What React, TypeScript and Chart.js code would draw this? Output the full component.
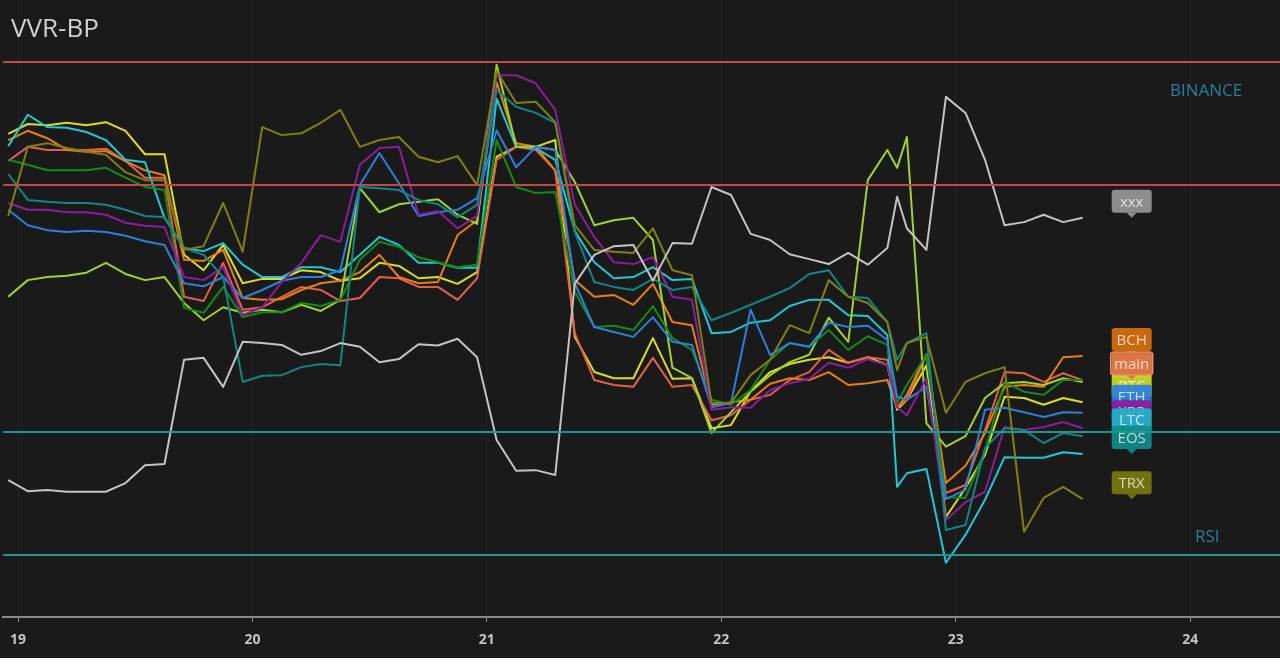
import React, { useEffect, useRef } from 'react';
import { Chart, registerables } from 'chart.js';

Chart.register(...registerables);

// hours since the 19th 00:00
const hours = [-1, 1, 3, 5, 7, 9, 11, 13, 15, 17, 19, 21, 23, 25, 27, 29, 31, 33, 35, 37, 39, 41, 43, 45, 47, 49, 51, 53, 55, 57, 59, 61, 63, 65, 67, 69, 71, 73, 75, 77, 79, 81, 83, 85, 87, 89, 90, 91, 93, 95, 97, 99, 101, 103, 105, 107, 109];

const dayTicks = [0, 24, 48, 72, 96, 120];
const dayLabels = ['19', '20', '21', '22', '23', '24'];

const redLevels = [90, 70];
const tealLevels = [30, 10];

const xxxValues = [22.2, 20.4, 20.6, 20.3, 20.3, 20.3, 21.7, 24.6, 24.8, 41.7, 42.0, 37.3, 44.6, 44.4, 44.1, 42.5, 43.1, 44.4, 43.8, 41.3, 41.8, 44.2, 44.0, 45.1, 42.1, 28.7, 23.7, 23.8, 23.0, 54.0, 58.7, 60.1, 60.3, 54.5, 60.6, 60.5, 69.7, 68.4, 62.1, 61.1, 58.8, 58.0, 57.2, 59.0, 57.1, 59.8, 68.1, 63.0, 59.5, 84.3, 81.7, 74.1, 63.5, 64.0, 65.2, 64.0, 64.7];
const btcValues = [78.3, 79.9, 79.7, 80.1, 79.7, 80.2, 78.8, 75.0, 75.0, 58.7, 56.2, 60.3, 54.1, 54.8, 54.8, 56.2, 55.9, 54.5, 54.9, 57.4, 56.9, 54.9, 55.1, 54.0, 55.9, 74.6, 76.2, 76.2, 77.3, 45.4, 39.7, 38.7, 38.7, 45.2, 38.6, 38.7, 30.6, 31.1, 36.6, 39.7, 41.0, 41.7, 42.1, 41.2, 42.1, 40.8, 33.6, 35.2, 40.8, 16.2, 20.9, 26.3, 35.7, 35.5, 34.4, 35.5, 34.8];
const eosValues = [76.3, 81.4, 79.4, 79.3, 78.6, 77.3, 74.1, 73.7, 64.7, 59.8, 59.3, 60.6, 57.1, 55.1, 55.1, 56.7, 56.7, 55.9, 58.7, 61.6, 60.3, 57.4, 57.4, 56.6, 56.6, 84.0, 76.2, 76.0, 74.1, 62.6, 57.5, 54.9, 55.1, 56.7, 54.6, 54.8, 46.0, 46.2, 47.7, 48.1, 50.4, 51.4, 51.4, 48.9, 48.8, 45.7, 21.1, 23.3, 24.0, 8.8, 13.3, 19.0, 25.9, 25.8, 25.8, 26.7, 26.4];
const bchValues = [77.3, 78.8, 77.6, 75.7, 75.4, 75.5, 73.9, 72.4, 71.6, 57.9, 57.7, 59.5, 51.7, 51.4, 51.5, 53.0, 54.1, 54.5, 55.9, 58.7, 55.1, 54.1, 54.3, 61.9, 64.3, 86.7, 76.8, 76.2, 72.4, 54.6, 51.9, 52.2, 50.6, 54.0, 47.8, 47.3, 34.4, 34.8, 35.2, 37.8, 38.7, 38.4, 39.7, 37.6, 37.9, 38.4, 33.9, 36.0, 42.6, 21.7, 24.5, 29.8, 37.3, 37.6, 37.3, 42.1, 42.3];
const mainValues = [73.9, 76.2, 75.7, 75.7, 75.7, 75.9, 73.9, 71.2, 71.2, 51.9, 51.2, 57.4, 49.8, 50.2, 51.9, 53.5, 53.0, 51.2, 51.7, 55.1, 54.9, 53.5, 53.5, 51.4, 54.9, 74.1, 76.2, 75.7, 72.4, 46.0, 38.4, 37.6, 37.3, 42.0, 37.3, 37.6, 31.9, 32.7, 35.2, 36.0, 38.4, 39.7, 43.3, 41.2, 42.1, 41.7, 34.0, 35.2, 42.5, 20.1, 21.4, 30.3, 39.7, 39.5, 38.1, 39.5, 38.4];
const trxValues = [65.0, 76.2, 76.8, 76.0, 75.4, 74.9, 72.1, 70.8, 70.8, 59.5, 60.1, 67.1, 59.2, 79.4, 78.1, 78.4, 80.1, 82.2, 76.2, 77.3, 77.8, 74.6, 73.7, 74.7, 70.0, 88.5, 83.3, 83.5, 80.2, 63.5, 59.5, 59.2, 59.0, 63.0, 56.2, 55.4, 34.7, 34.7, 39.2, 41.7, 47.3, 46.0, 54.6, 51.9, 50.9, 47.8, 40.0, 44.4, 45.4, 33.1, 38.1, 39.5, 40.5, 13.8, 19.3, 21.1, 19.1];
const bnbValues = [74.1, 73.3, 72.4, 72.4, 72.4, 72.8, 71.2, 69.7, 69.2, 50.1, 49.3, 53.5, 48.6, 49.4, 49.4, 50.9, 50.4, 51.4, 57.9, 60.8, 60.0, 58.3, 57.5, 56.7, 57.1, 77.3, 69.7, 68.7, 68.9, 52.7, 47.0, 47.2, 46.5, 50.4, 45.2, 43.3, 35.2, 34.4, 36.8, 41.7, 44.4, 43.8, 46.5, 43.3, 45.5, 44.1, 34.7, 37.6, 42.5, 19.4, 19.3, 26.9, 38.1, 36.5, 36.0, 38.4, 38.4];
const ltcValues = [71.8, 67.6, 67.3, 67.1, 67.1, 66.8, 66.0, 65.0, 64.8, 59.8, 58.7, 55.1, 38.1, 39.1, 39.2, 40.5, 41.0, 40.8, 69.7, 69.5, 69.2, 67.6, 66.9, 64.8, 66.8, 85.4, 82.7, 81.7, 80.1, 62.4, 54.3, 53.5, 53.0, 54.8, 53.0, 53.5, 48.1, 49.3, 50.6, 51.9, 53.3, 55.6, 56.2, 51.9, 51.7, 47.8, 41.7, 44.4, 46.0, 14.1, 14.9, 27.4, 30.6, 30.3, 28.2, 29.8, 29.3];
const xrpValues = [67.1, 66.0, 66.0, 65.6, 65.6, 65.2, 63.9, 63.4, 63.2, 55.1, 54.6, 56.7, 48.9, 50.2, 54.3, 57.4, 61.9, 60.8, 73.3, 76.0, 76.2, 65.2, 65.8, 63.0, 65.0, 87.8, 87.8, 86.5, 82.2, 66.8, 61.6, 57.5, 57.2, 58.3, 51.9, 51.4, 33.6, 34.0, 33.9, 36.8, 37.9, 38.6, 41.2, 40.4, 41.8, 40.8, 34.0, 32.7, 38.7, 15.7, 18.6, 20.3, 30.8, 30.3, 30.8, 31.6, 30.6];
const ethValues = [66.0, 63.5, 62.7, 62.4, 62.6, 62.4, 61.8, 60.9, 60.3, 54.1, 53.6, 55.1, 51.7, 53.0, 54.5, 55.1, 55.1, 56.2, 70.0, 75.2, 70.3, 65.0, 65.6, 66.0, 67.9, 78.9, 72.9, 76.2, 75.7, 54.1, 47.0, 46.2, 45.4, 48.6, 44.6, 44.1, 34.0, 34.7, 49.8, 42.5, 44.4, 43.8, 47.7, 47.0, 47.2, 44.9, 35.7, 35.2, 37.3, 19.1, 20.6, 33.6, 33.9, 33.2, 32.4, 33.2, 33.1];
const adaValues = [51.9, 54.6, 55.1, 55.3, 55.8, 57.4, 55.6, 54.6, 55.1, 50.9, 48.1, 50.2, 49.3, 49.8, 49.4, 50.6, 49.6, 51.4, 69.5, 65.6, 66.9, 67.3, 67.7, 65.2, 63.7, 89.5, 76.2, 76.2, 75.7, 70.5, 63.5, 64.3, 64.7, 61.1, 40.4, 38.7, 29.8, 33.2, 36.5, 39.2, 41.3, 42.5, 48.5, 44.6, 70.8, 75.7, 72.8, 77.8, 31.4, 27.6, 29.3, 35.5, 37.9, 38.1, 37.6, 38.7, 38.1];

type Series = { name: string; values: number[]; color: string; tag: string; border?: string };

const series: Series[] = [
  { name: 'xxx', values: xxxValues, color: '#c4c4c4', tag: 'rgba(150,150,150,0.92)' },
  { name: 'TRX', values: trxValues, color: '#808012', tag: 'rgba(120,120,14,0.92)' },
  { name: 'LTC', values: ltcValues, color: '#128686', tag: 'rgba(30,180,200,0.92)' },
  { name: 'XRP', values: xrpValues, color: '#8c1c9e', tag: 'rgba(140,28,158,0.92)' },
  { name: 'ETH', values: ethValues, color: '#2a80dc', tag: 'rgba(42,128,220,0.92)' },
  { name: 'BNB', values: bnbValues, color: '#148c14', tag: 'rgba(20,140,20,0.92)' },
  { name: 'ADA', values: adaValues, color: '#a0d232', tag: 'rgba(160,210,50,0.92)' },
  { name: 'EOS', values: eosValues, color: '#20c8d8', tag: 'rgba(16,140,142,0.92)' },
  { name: 'BCH', values: bchValues, color: '#e8800e', tag: 'rgba(214,112,14,0.92)' },
  { name: 'main', values: mainValues, color: '#e2604a', tag: 'rgba(226,110,70,0.92)', border: '#f08a6a' },
  { name: 'BTC', values: btcValues, color: '#dede1e', tag: 'rgba(206,220,40,0.92)' },
];

const tagOrder = ['xxx', 'BCH', 'BNB', 'ADA', 'BTC', 'main', 'ETH', 'XRP', 'LTC', 'EOS', 'TRX'];

const tagPlugin = {
  id: 'tags',
  afterDatasetsDraw(chart: any) {
    const ctx = chart.ctx as CanvasRenderingContext2D;
    const xs = chart.scales.x;
    const ys = chart.scales.y;
    ctx.save();
    tagOrder.forEach((name) => {
      const s = series.find((q) => q.name === name)!;
      const lastX = xs.getPixelForValue(hours[hours.length - 1]);
      const yEnd = ys.getPixelForValue(s.values[s.values.length - 1]);
      const left = lastX + 29;
      const w = 40;
      const top = yEnd - 28;
      const h = 23;
      ctx.fillStyle = s.tag;
      ctx.beginPath();
      (ctx as any).roundRect(left, top, w, h, 3);
      ctx.fill();
      ctx.beginPath();
      ctx.moveTo(left + w / 2 - 5, top + h);
      ctx.lineTo(left + w / 2, yEnd);
      ctx.lineTo(left + w / 2 + 5, top + h);
      ctx.closePath();
      ctx.fill();
      if (s.border) {
        ctx.strokeStyle = s.border;
        ctx.lineWidth = 1.5;
        ctx.beginPath();
        (ctx as any).roundRect(left - 1, top, w + 2, h, 3);
        ctx.stroke();
      }
      ctx.fillStyle = 'rgba(255,255,255,0.72)';
      ctx.font = "15px 'Open Sans', sans-serif";
      ctx.textAlign = 'center';
      ctx.textBaseline = 'middle';
      ctx.fillText(s.name, left + w / 2, top + h / 2 + 1);
    });
    ctx.restore();
  },
};

const levelPlugin = {
  id: 'levels',
  afterDraw(chart: any) {
    const ctx = chart.ctx as CanvasRenderingContext2D;
    const ys = chart.scales.y;
    const { left, right } = chart.chartArea;
    ctx.save();
    ctx.lineWidth = 2;
    const draw = (v: number, c: string) => {
      const y = Math.round(ys.getPixelForValue(v));
      ctx.strokeStyle = c;
      ctx.beginPath();
      ctx.moveTo(left, y);
      ctx.lineTo(right, y);
      ctx.stroke();
    };
    redLevels.forEach((v) => draw(v, '#c4484a'));
    tealLevels.forEach((v) => draw(v, '#1f9690'));
    ctx.restore();
  },
};

export default function App() {
  const ref = useRef<HTMLCanvasElement>(null);
  useEffect(() => {
    Chart.defaults.font.family = "'Open Sans', sans-serif";
    const chart = new Chart(ref.current!, {
      type: 'line',
      data: {
        datasets: series.map((s) => ({
          label: s.name,
          data: hours.map((h, i) => ({ x: h, y: s.values[i] })),
          borderColor: s.color,
          backgroundColor: s.color,
          borderWidth: 2,
          pointRadius: 0,
          tension: 0,
          fill: false,
          borderJoinStyle: 'round' as const,
        })),
      },
      options: {
        animation: false,
        responsive: true,
        maintainAspectRatio: false,
        layout: { padding: 0 },
        plugins: { legend: { display: false }, tooltip: { enabled: false }, title: { display: false } },
        scales: {
          x: {
            type: 'linear',
            min: -1.53,
            max: 129.2,
            afterBuildTicks: (s: any) => {
              s.ticks = dayTicks.map((v) => ({ value: v }));
            },
            afterFit: (s: any) => {
              s.height = 41;
            },
            ticks: {
              color: '#c4c4c4',
              font: { size: 14, weight: 'bold' },
              padding: 10,
              maxRotation: 0,
              autoSkip: false,
              callback: (v: any) => {
                const idx = dayTicks.indexOf(Number(v));
                return idx >= 0 ? dayLabels[idx] : '';
              },
            },
            grid: {
              color: 'rgba(255,255,255,0.045)',
              drawTicks: true,
              tickLength: 5,
              tickColor: '#8a8a8a',
            },
            border: { color: '#8a8a8a', width: 2 },
          },
          y: { display: false, min: 0, max: 100 },
        },
      } as any,
      plugins: [tagPlugin, levelPlugin],
    });
    return () => chart.destroy();
  }, []);

  const labelStyle: React.CSSProperties = {
    position: 'absolute',
    fontFamily: "'Open Sans', sans-serif",
    lineHeight: 1,
    whiteSpace: 'nowrap',
    pointerEvents: 'none',
  };

  return (
    <div style={{ position: 'absolute', left: 0, top: 0, width: 1280, height: 658, background: '#1a1a1a' }}>
      <div style={{ position: 'absolute', left: 0, top: 0, width: 1280, height: 658 }}>
        <canvas ref={ref} />
      </div>
      <div style={{ ...labelStyle, left: 11, top: 14, fontSize: 26, color: '#cfcfcf' }}>VVR-BP</div>
      <div style={{ ...labelStyle, left: 1170, top: 81, fontSize: 17, color: '#2c7c9e' }}>BINANCE</div>
      <div style={{ ...labelStyle, left: 1195, top: 527, fontSize: 17, color: '#2c7c9e' }}>RSI</div>
    </div>
  );
}
